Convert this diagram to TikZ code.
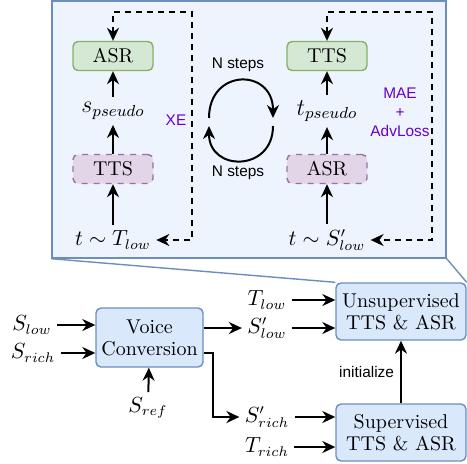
\documentclass[tikz,border=0pt]{standalone}
\usepackage{fontspec}
\newfontfamily\lossfont{Liberation Sans}
\usetikzlibrary{arrows.meta}
\definecolor{panelfill}{HTML}{EEF4FD}
\definecolor{boxfill}{HTML}{DAE8FC}
\definecolor{boxline}{HTML}{6C8EBF}
\definecolor{greenfill}{HTML}{D5E8D4}
\definecolor{greenline}{HTML}{82B366}
\definecolor{purplefill}{HTML}{E1D5E7}
\definecolor{purpleline}{HTML}{9673A6}
\definecolor{losstext}{HTML}{6600CC}
\tikzset{
    block/.style={draw=boxline, fill=boxfill, line width=0.7pt, rounded corners=2.5pt,
        minimum width=65pt, minimum height=28.5pt, inner sep=0pt, align=center,
        font=\fontsize{10}{11}\selectfont}
}
\tikzset{
    greenbox/.style={block, draw=greenline, fill=greenfill, minimum width=40pt,
        minimum height=14.5pt},
    purplebox/.style={block, draw=purpleline, fill=purplefill, dashed,
        minimum width=40pt, minimum height=14.5pt}
}
\tikzset{
    var/.style={inner sep=2.5pt, font=\fontsize{10.5}{12}\selectfont},
    pseudo/.style={inner sep=2.5pt, font=\fontsize{12}{14}\selectfont},
    note/.style={inner sep=1pt, font=\lossfont\fontsize{7.7}{9.5}\selectfont, align=center}
}
\tikzset{
    flow/.style={-{Stealth[length=6.5pt,width=6pt]}, line width=1pt},
    dflow/.style={{Stealth[length=6.5pt,width=6pt]}-{Stealth[length=6.5pt,width=6pt]},
        line width=0.9pt, dash pattern=on 3pt off 2.5pt}
}

\begin{document}
\begin{tikzpicture}[x=0.5pt, y=-0.5pt]
	\useasboundingbox (0,0) rectangle (467,463);

	% zoomed panel
	\node (panel) [draw=boxline, fill=panelfill, line width=0.7pt, minimum width=197pt,
		minimum height=128.5pt, inner sep=0pt] at (249,129.5) {};

	% left column
	\node (asrA) [greenbox] at (113,56) {ASR};
	\node (sps) [pseudo] at (113,111) {$s_{pseudo}$};
	\node (ttsA) [purplebox] at (113,169) {TTS};
	\node (tlow) [var] at (113,240) {$t\sim T_{low}$};
	\coordinate (xeA) at (192,12);
	\node (xe) [note, text=losstext] at (176,120) {XE};

	% right column
	\node (ttsB) [greenbox] at (327,56) {TTS};
	\node (tps) [pseudo] at (327,111) {$t_{pseudo}$};
	\node (asrB) [purplebox] at (327,169) {ASR};
	\node (slowB) [var] at (327,240) {$t\sim S'_{low}$};
	\coordinate (maeA) at (432,12);
	\node (mae) [note, text=losstext] at (400,112) {MAE\\+\\AdvLoss};

	\draw[flow] (tlow) -- (ttsA);
	\draw[flow] (ttsA) -- (sps);
	\draw[flow] (sps) -- (asrA);
	\draw[dflow] (asrA.north) |- (xeA) |- (tlow.east);

	\draw[flow] (slowB) -- (asrB);
	\draw[flow] (asrB) -- (tps);
	\draw[flow] (tps) -- (ttsB);
	\draw[dflow] (ttsB.north) |- (maeA) |- (slowB.east);

	% cycle between the two
	\coordinate (cyA) at (209,118);
	\coordinate (cyB) at (273,118);
	\coordinate (cyC) at (273,126);
	\coordinate (cyD) at (209,126);
	\draw[flow] (cyA) .. controls (209,68) and (273,68) .. (cyB);
	\draw[flow] (cyC) .. controls (273,172) and (209,172) .. (cyD);
	\node (stepA) [note] at (238,65) {N steps};
	\node (stepB) [note] at (238,173) {N steps};

	% lower pipeline
	\node (vc) [block, minimum width=53.5pt, minimum height=29.5pt] at (149.5,337.5)
		{Voice\\Conversion};
	\node (unsup) [block] at (401,311.5) {Unsupervised\\TTS \& ASR};
	\node (sup) [block] at (401,432.5) {Supervised\\TTS \& ASR};

	\draw[boxline, line width=0.7pt] (panel.south west) -- (unsup.north west);
	\draw[boxline, line width=0.7pt] (panel.south east) -- (unsup.north east);

	\node (slow) [var] at (32,325) {$S_{low}$};
	\node (srich) [var] at (33,353) {$S_{rich}$};
	\node (sref) [var] at (148,408) {$S_{ref}$};
	\node (tlowC) [var] at (267,300) {$T_{low}$};
	\node (slowC) [var] at (267,328) {$S'_{low}$};
	\node (srichC) [var] at (267,417) {$S'_{rich}$};
	\node (trich) [var] at (267,447) {$T_{rich}$};
	\coordinate (bend) at (213,353);

	\draw[flow] (slow) -- (slow -| vc.west);
	\draw[flow] (srich) -- (srich -| vc.west);
	\draw[flow] (sref) -- (vc);
	\draw[flow] (vc.east |- slowC) -- (slowC);
	\draw[flow] (vc.east |- bend) -- (bend) |- (srichC);
	\draw[flow] (tlowC) -- (tlowC -| unsup.west);
	\draw[flow] (slowC) -- (slowC -| unsup.west);
	\draw[flow] (srichC) -- (srichC -| sup.west);
	\draw[flow] (trich) -- (trich -| sup.west);
	\draw[flow] (sup) -- node[note, left=2pt] {initialize} (unsup);
\end{tikzpicture}
\end{document}
